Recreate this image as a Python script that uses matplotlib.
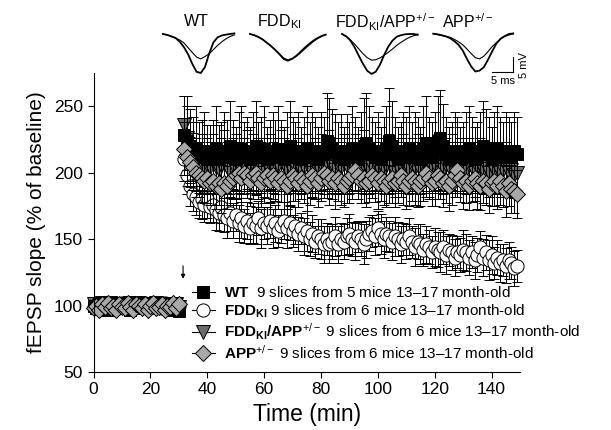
import numpy as np
import matplotlib
matplotlib.use("Agg")
import matplotlib.pyplot as plt
from matplotlib.lines import Line2D

plt.rcParams['font.family'] = ['Liberation Sans', 'DejaVu Sans']
plt.rcParams['mathtext.fontset'] = 'custom'
plt.rcParams['mathtext.rm'] = 'Liberation Sans'
plt.rcParams['mathtext.it'] = 'Liberation Sans:italic'
plt.rcParams['mathtext.bf'] = 'Liberation Sans:bold'

# time axis (min): baseline then post-tetanus
t_base = np.arange(0, 31)
t_post = np.arange(32, 150)
tetanus_time = 31.5

# --- baseline (% of baseline) ---
wt_base = [100, 98, 102, 99, 101, 97, 103, 100, 98, 101, 99, 102, 100, 97, 101, 99,
           103, 100, 98, 102, 99, 101, 100, 98, 102, 99, 101, 97, 100, 102, 96]
fdd_base = [99, 101, 100, 98, 102, 100, 99, 101, 98, 100, 102, 99, 101, 100, 98, 101,
            99, 100, 102, 98, 100, 101, 99, 100, 98, 102, 100, 99, 101, 100, 100]
fddapp_base = [101, 99, 100, 102, 98, 100, 101, 99, 100, 98, 101, 100, 99, 102, 100, 98,
               101, 99, 100, 101, 98, 100, 102, 99, 100, 101, 99, 100, 98, 101, 99]
app_base = [98, 100, 97, 101, 99, 102, 98, 100, 97, 101, 99, 98, 102, 99, 97, 101,
            100, 98, 101, 97, 100, 102, 98, 99, 101, 97, 100, 99, 102, 98, 101]
base_err = [3, 2, 3, 2, 3, 3, 2, 3, 2, 3, 3, 2, 3, 2, 3, 3,
            2, 3, 2, 3, 3, 2, 3, 2, 3, 3, 2, 3, 2, 3, 3]

# --- post-tetanus means ---
wt_post = [228, 224, 220, 216, 218, 214, 212, 216, 210, 214,
           212, 218, 210, 214, 216, 212, 220, 214, 210, 216,
           218, 212, 214, 210, 216, 220, 212, 214, 218, 210,
           214, 216, 212, 218, 214, 210, 216, 220, 214, 212,
           216, 210, 214, 218, 212, 216, 214, 210, 216, 214,
           224, 222, 218, 216, 212, 214, 210, 216, 212, 218,
           214, 210, 216, 220, 222, 218, 214, 212, 216, 210,
           214, 218, 224, 220, 214, 210, 212, 216, 214, 218,
           212, 216, 214, 210, 218, 222, 214, 212, 216, 224,
           226, 220, 214, 210, 212, 216, 214, 210, 212, 216,
           218, 214, 210, 212, 216, 220, 218, 214, 210, 216,
           218, 214, 212, 216, 214, 212, 216, 214]
wt_err = [30, 34, 28, 26, 32, 24, 28, 30, 26, 22,
          28, 32, 26, 24, 30, 28, 34, 26, 24, 30,
          32, 26, 28, 24, 30, 34, 26, 28, 32, 24,
          26, 30, 28, 32, 26, 24, 30, 34, 28, 26,
          30, 24, 28, 32, 26, 30, 28, 24, 30, 28,
          36, 34, 30, 28, 26, 30, 24, 28, 26, 32,
          28, 24, 30, 36, 38, 32, 28, 26, 30, 24,
          28, 32, 40, 34, 28, 24, 26, 30, 28, 32,
          26, 30, 28, 24, 32, 36, 28, 26, 30, 34,
          36, 32, 28, 24, 26, 30, 28, 24, 26, 30,
          32, 28, 24, 26, 30, 34, 30, 28, 24, 30,
          32, 28, 26, 30, 28, 26, 30, 28]

fdd_post = [210, 198, 190, 184, 182, 178, 180, 176, 180, 174,
            176, 172, 170, 174, 168, 166, 170, 164, 168, 162,
            166, 160, 164, 158, 162, 160, 166, 158, 162, 160,
            164, 158, 162, 156, 160, 164, 158, 162, 156, 160,
            154, 158, 152, 156, 150, 154, 148, 152, 150, 146,
            150, 146, 148, 152, 146, 150, 148, 152, 154, 150,
            148, 152, 150, 146, 150, 154, 156, 152, 158, 154,
            150, 154, 152, 148, 152, 150, 146, 150, 148, 152,
            148, 144, 148, 146, 142, 146, 144, 140, 144, 142,
            140, 144, 138, 142, 140, 136, 140, 138, 142, 140,
            136, 140, 134, 138, 144, 136, 140, 134, 138, 132,
            136, 132, 134, 130, 134, 132, 128, 130]
fdd_err = [16, 14, 15, 13, 14, 12, 15, 13, 14, 12,
           13, 15, 14, 12, 13, 15, 14, 13, 12, 14,
           15, 13, 14, 12, 15, 14, 13, 15, 12, 14,
           13, 15, 14, 12, 13, 14, 15, 13, 12, 14,
           13, 12, 14, 15, 13, 14, 12, 13, 15, 14,
           12, 14, 13, 15, 14, 12, 13, 14, 15, 13,
           14, 12, 13, 15, 14, 13, 12, 14, 13, 15,
           14, 13, 12, 14, 15, 13, 14, 12, 13, 14,
           12, 14, 13, 15, 12, 14, 13, 12, 14, 13,
           15, 13, 14, 12, 13, 14, 12, 13, 15, 14,
           13, 12, 14, 13, 12, 14, 13, 15, 14, 12,
           13, 14, 12, 13, 14, 12, 13, 12]

fddapp_post = [236, 226, 218, 212, 206, 204, 208, 202, 206, 204,
               208, 204, 202, 206, 210, 204, 200, 206, 208, 204,
               202, 206, 210, 204, 208, 202, 206, 204, 200, 206,
               208, 204, 202, 206, 210, 206, 202, 204, 208, 204,
               206, 202, 204, 208, 204, 200, 206, 204, 208, 202,
               206, 210, 204, 202, 206, 204, 208, 206, 202, 204,
               208, 206, 204, 210, 206, 202, 204, 208, 204, 206,
               202, 206, 208, 204, 200, 204, 206, 208, 204, 202,
               206, 204, 208, 202, 206, 204, 200, 204, 206, 208,
               204, 202, 206, 204, 208, 204, 200, 206, 204, 202,
               206, 204, 200, 204, 206, 202, 204, 200, 204, 202,
               204, 200, 202, 204, 200, 202, 198, 200]
fddapp_err = [22, 24, 20, 18, 20, 19, 21, 18, 20, 19,
              21, 19, 18, 20, 22, 19, 18, 20, 21, 19,
              18, 20, 22, 19, 21, 18, 20, 19, 18, 20,
              21, 19, 18, 20, 22, 20, 18, 19, 21, 19,
              20, 18, 19, 21, 19, 18, 20, 19, 21, 18,
              20, 22, 19, 18, 20, 19, 21, 20, 18, 19,
              21, 20, 19, 22, 20, 18, 19, 21, 19, 20,
              18, 20, 21, 19, 18, 19, 20, 21, 19, 18,
              20, 19, 21, 18, 20, 19, 18, 19, 20, 21,
              19, 18, 20, 19, 21, 19, 18, 20, 19, 18,
              20, 19, 18, 19, 20, 18, 19, 18, 19, 18,
              19, 18, 18, 19, 18, 18, 17, 18]

app_post = [218, 212, 208, 204, 200, 198, 196, 194, 196, 192,
            194, 190, 192, 188, 192, 190, 194, 196, 198, 200,
            196, 200, 198, 194, 198, 200, 196, 192, 196, 198,
            194, 198, 196, 192, 196, 194, 190, 194, 198, 196,
            192, 196, 194, 190, 194, 198, 196, 192, 196, 200,
            198, 194, 196, 192, 196, 194, 190, 194, 196, 198,
            202, 198, 194, 196, 192, 194, 198, 196, 192, 196,
            194, 190, 194, 196, 192, 194, 198, 194, 190, 194,
            196, 194, 190, 194, 196, 200, 196, 192, 194, 198,
            196, 192, 194, 190, 194, 198, 202, 196, 192, 194,
            190, 194, 196, 192, 190, 194, 192, 188, 192, 194,
            190, 194, 190, 186, 192, 188, 186, 184]
app_err = [20, 18, 19, 17, 18, 16, 18, 17, 19, 16,
           18, 17, 16, 18, 19, 17, 18, 16, 17, 19,
           18, 16, 17, 19, 18, 17, 16, 18, 19, 17,
           16, 18, 17, 19, 18, 16, 17, 18, 19, 17,
           18, 16, 17, 19, 18, 17, 16, 18, 17, 19,
           17, 18, 16, 19, 17, 18, 16, 17, 19, 18,
           16, 18, 17, 19, 18, 16, 17, 18, 19, 17,
           18, 16, 17, 19, 18, 17, 16, 18, 17, 19,
           17, 18, 16, 19, 17, 18, 16, 17, 19, 18,
           16, 18, 17, 19, 18, 16, 17, 18, 19, 17,
           18, 16, 17, 19, 18, 17, 16, 18, 17, 19,
           17, 18, 16, 19, 17, 18, 16, 18]

# --- example traces (mV, 1 ms sampling): pre = thin, post = thick ---
wt_pre = [0, -0.3, -0.8, -1.4, -2.0, -3.0, -4.6, -6.2, -7.7, -8.3, -7.5, -6.6,
          -5.2, -3.8, -2.6, -1.6, -0.8, -0.3]
wt_post_trace = [0, -0.3, -0.8, -1.3, -2.6, -4.4, -6.8, -10.0, -12.6, -13.0, -11.0,
                 -6.5, -2.8, -1.1, -0.5, -0.2, 0.0, 0.2]
fdd_pre = [0, -0.4, -1.0, -1.8, -2.9, -4.0, -5.3, -6.7, -8.0, -8.6, -8.2, -7.4,
           -6.3, -5.0, -3.8, -2.6, -1.6, -0.8, -0.2]
fdd_post_trace = [0, -0.4, -1.0, -1.8, -2.9, -4.0, -5.3, -6.7, -8.3, -8.9, -8.3,
                  -7.3, -6.0, -4.6, -3.4, -2.3, -1.4, -0.7, -0.2]
fddapp_pre = [0, -0.8, -2.0, -3.4, -5.0, -6.6, -7.9, -8.7, -8.6, -8.0, -7.1, -6.1,
              -5.0, -3.8, -2.8, -1.9, -1.1, -0.6, -0.3]
fddapp_post_trace = [0, -0.8, -2.2, -4.5, -7.3, -10.0, -12.3, -13.3, -12.6, -10.3,
                     -7.0, -4.2, -2.2, -0.9, -0.4, -0.1, 0.0, 0.0, -0.2]
app_pre = [0.1, -0.2, -0.5, -0.8, -1.1, -1.8, -2.6, -3.6, -5.0, -6.5, -7.9, -8.3,
           -7.4, -5.9, -4.2, -2.9, -1.6, -0.8, -0.3, 0.0]
app_post_trace = [0.1, -0.1, -0.4, -0.8, -1.4, -2.4, -3.6, -5.5, -8.3, -10.8, -12.5,
                  -12.2, -11.1, -8.6, -5.8, -3.2, -1.6, -0.7, 0.0, 0.2]

trace_labels = ["WT", r"FDD$_{\mathrm{KI}}$", r"FDD$_{\mathrm{KI}}$/APP$^{+/-}$", r"APP$^{+/-}$"]
trace_offsets = [0.7, 21.4, 43.3, 65.0]     # ms, where each trace pair sits
label_centres = [8.6, 28.3, 53.6, 73.1]

legend_labels = [
    r"$\mathbf{WT}$  9 slices from 5 mice 13–17 month-old",
    r"$\mathbf{FDD}_{\mathbf{KI}}$ 9 slices from 6 mice 13–17 month-old",
    r"$\mathbf{FDD}_{\mathbf{KI}}\mathbf{/APP}^{+/-}$ 9 slices from 6 mice 13–17 month-old",
    r"$\mathbf{APP}^{+/-}$ 9 slices from 6 mice 13–17 month-old",
]

W, H = 611, 430
fig = plt.figure(figsize=(W / 100, H / 100), dpi=100)
ax = fig.add_axes([93.5 / W, 1 - 372 / H, 426.5 / W, 299 / H])

styles = {
    'wt': dict(marker='s', mfc='black', ms=8.5),
    'fdd': dict(marker='o', mfc='white', ms=9.5),
    'fddapp': dict(marker='v', mfc='#6b6b6b', ms=10),
    'app': dict(marker='D', mfc='#a8a8a8', ms=8.3),
}

series = [
    ('fdd', fdd_base, fdd_post, fdd_err),
    ('fddapp', fddapp_base, fddapp_post, fddapp_err),
    ('wt', wt_base, wt_post, wt_err),
    ('app', app_base, app_post, app_err),
]
for key, base, post, err in series:
    st = styles[key]
    t_all = np.concatenate([t_base, t_post])
    y_all = np.concatenate([base, post])
    e_all = np.concatenate([base_err, err])
    ax.errorbar(t_all, y_all, yerr=e_all, fmt='none', ecolor='black',
                elinewidth=0.7, capsize=3.5, capthick=0.7, clip_on=False)
    ax.plot(t_all, y_all, ls='none', marker=st['marker'], mfc=st['mfc'],
            mec='black', mew=0.7, ms=st['ms'], clip_on=False)

ax.set_xlim(0, 150)
ax.set_ylim(50, 275)
ax.set_xticks([0, 20, 40, 60, 80, 100, 120, 140])
ax.set_yticks([50, 100, 150, 200, 250])
ax.spines['top'].set_visible(False)
ax.spines['right'].set_visible(False)
for s in ['left', 'bottom']:
    ax.spines[s].set_linewidth(0.8)
ax.tick_params(direction='out', length=4, width=0.8, labelsize=12.5)
ax.set_xlabel("Time (min)", fontsize=16.5, labelpad=4)
ax.set_ylabel("fEPSP slope (% of baseline)", fontsize=15, labelpad=6)

ax.annotate('', xy=(tetanus_time, 118), xytext=(tetanus_time, 132),
            arrowprops=dict(arrowstyle='-|>', lw=0.8, color='black', mutation_scale=6))

handles = []
for key in ['wt', 'fdd', 'fddapp', 'app']:
    st = styles[key]
    handles.append(Line2D([0], [0], color='black', lw=0.8, marker=st['marker'],
                          mfc=st['mfc'], mec='black', mew=0.7, ms=st['ms']))
ax.legend(handles, legend_labels, loc='upper left', bbox_to_anchor=(0.231, 0.29),
          frameon=False, fontsize=11, handlelength=1.5, handletextpad=0.6,
          labelspacing=0.12, borderpad=0, borderaxespad=0)

# inset with example traces
ins = fig.add_axes([160 / W, 1 - 85 / H, 370 / W, 60 / H])
ins.set_xlim(0, 88)
ins.set_ylim(-17, 3)
ins.axis('off')
traces = [(wt_pre, wt_post_trace), (fdd_pre, fdd_post_trace),
          (fddapp_pre, fddapp_post_trace), (app_pre, app_post_trace)]
for (pre, post), off, lab, cx in zip(traces, trace_offsets, trace_labels, label_centres):
    ins.plot(np.arange(len(pre)) + off, pre, color='black', lw=0.8)
    ins.plot(np.arange(len(post)) + off, post, color='black', lw=1.3)
    ins.text(cx, 4, lab, ha='center', va='center', fontsize=11.5, clip_on=False)

# scale bar 5 ms / 5 mV
ins.plot([79, 84], [-12.7, -12.7], color='black', lw=0.8)
ins.plot([84, 84], [-12.7, -7.7], color='black', lw=0.8)
ins.text(81.5, -15.5, "5 ms", ha='center', va='center', fontsize=8)
ins.text(86.6, -10.2, "5 mV", ha='center', va='center', rotation=90, fontsize=8)

fig.savefig("out.png", dpi=100)
